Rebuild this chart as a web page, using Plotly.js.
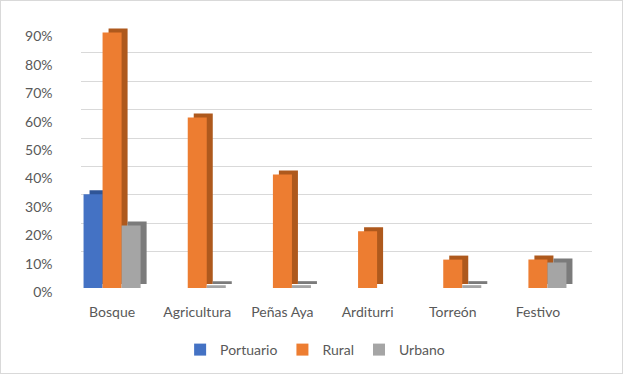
<!DOCTYPE html>
<html>
<head>
<meta charset="utf-8">
<script src="https://cdn.plot.ly/plotly-3.0.1.min.js"></script>
<style>
  html, body { margin: 0; padding: 0; background: #ffffff; }
  #wrap { position: relative; width: 624px; height: 375px; }
  #chart { position: absolute; left: 0; top: 0; width: 624px; height: 375px; }
  #frame { position: absolute; left: 0; top: 0; width: 621px; height: 372px;
           border: 1px solid #d9d9d9; pointer-events: none; }
</style>
</head>
<body>
<div id="wrap"><div id="chart"></div><div id="frame"></div></div>
<script>
// ---- data ----
const categories = ["Bosque", "Agricultura", "Peñas Aya", "Arditurri", "Torreón", "Festivo"];
const portuario = [0.33, 0, 0, 0, 0, 0];
const rural     = [0.90, 0.60, 0.40, 0.20, 0.10, 0.10];
const urbano    = [0.22, 0.01, 0.01, 0, 0.01, 0.09];
const seriesNames = ["Portuario", "Rural", "Urbano"];
const tickValues = [0, 0.1, 0.2, 0.3, 0.4, 0.5, 0.6, 0.7, 0.8, 0.9];

// ---- styling ----
const faceColors = ["#4472C4", "#ED7D31", "#A5A5A5"];
const sideColors = ["#2F5597", "#AE591D", "#7B7B7B"];
const W = 624, H = 375;
const FONT = "Lato, 'Open Sans', sans-serif";
const TXT = "#595959";

// pixel geometry helpers (margins are zero, so paper == page)
const px = (a, b) => [a / W, b / W];
const py = (top, bottom) => [(H - bottom) / H, (H - top) / H];

const seriesData = [portuario, rural, urbano];
const traces = [];

// back wall (gridlines only) on x/y
traces.push({
  type: "bar", x: categories, y: categories.map(() => null),
  xaxis: "x", yaxis: "y", showlegend: false, hoverinfo: "skip"
});
// depth faces on x2/y2
seriesData.forEach((vals, i) => {
  traces.push({
    type: "bar", x: categories, y: vals, name: seriesNames[i] + " depth",
    xaxis: "x2", yaxis: "y2", showlegend: false, hoverinfo: "skip",
    marker: { color: sideColors[i], line: { width: 0 } }
  });
});
// front faces on x3/y3
seriesData.forEach((vals, i) => {
  traces.push({
    type: "bar", x: categories, y: vals, name: seriesNames[i],
    xaxis: "x3", yaxis: "y3",
    marker: { color: faceColors[i], line: { width: 0 } }
  });
});

const front = { x0: 69.5, x1: 580.5, y0: 288 };
const scale = 284; // px per 100%
const dDepth = [6, 4];
const dWall = [11, 8];

const hidden = { showgrid: false, zeroline: false, showline: false, showticklabels: false, ticks: "" };

const layout = {
  width: W, height: H,
  margin: { l: 0, r: 0, t: 0, b: 0 },
  paper_bgcolor: "#ffffff", plot_bgcolor: "rgba(0,0,0,0)",
  font: { family: FONT, size: 14, color: TXT },
  barmode: "group", bargap: 0.33, bargroupgap: 0,
  showlegend: true,
  legend: { orientation: "h", x: 0.505, xanchor: "center", y: (H - 350) / H, yanchor: "middle",
            font: { family: FONT, size: 14, color: TXT }, itemwidth: 30, traceorder: "normal" },
  xaxis: Object.assign({}, hidden, { domain: px(front.x0 + dWall[0], front.x1 + dWall[0]), anchor: "y", fixedrange: true }),
  yaxis: Object.assign({}, hidden, {
    domain: py(front.y0 - dWall[1] - scale * 0.9, front.y0 - dWall[1]),
    anchor: "x", range: [-0.0005, 0.9005], showgrid: true, gridcolor: "#d9d9d9", gridwidth: 1,
    tickvals: tickValues, zeroline: false, fixedrange: true
  }),
  xaxis2: Object.assign({}, hidden, { domain: px(front.x0 + dDepth[0], front.x1 + dDepth[0]), anchor: "y2", fixedrange: true }),
  yaxis2: Object.assign({}, hidden, {
    domain: py(front.y0 - dDepth[1] - scale, front.y0 - dDepth[1]), anchor: "x2", range: [0, 1], fixedrange: true
  }),
  xaxis3: Object.assign({}, hidden, {
    domain: px(front.x0, front.x1), anchor: "y3", showticklabels: true,
    ticklabelstandoff: 14, tickfont: { family: FONT, size: 14, color: TXT }, fixedrange: true
  }),
  yaxis3: Object.assign({}, hidden, {
    domain: py(front.y0 - scale, front.y0), anchor: "x3", range: [0, 1],
    showticklabels: true, tickvals: tickValues, tickformat: ".0%",
    ticklabelshift: 4, ticklabelstandoff: 16,
    tickfont: { family: FONT, size: 14, color: TXT }, fixedrange: true
  })
};

Plotly.newPlot("chart", traces, layout, { displayModeBar: false, staticPlot: true });
</script>
</body>
</html>
